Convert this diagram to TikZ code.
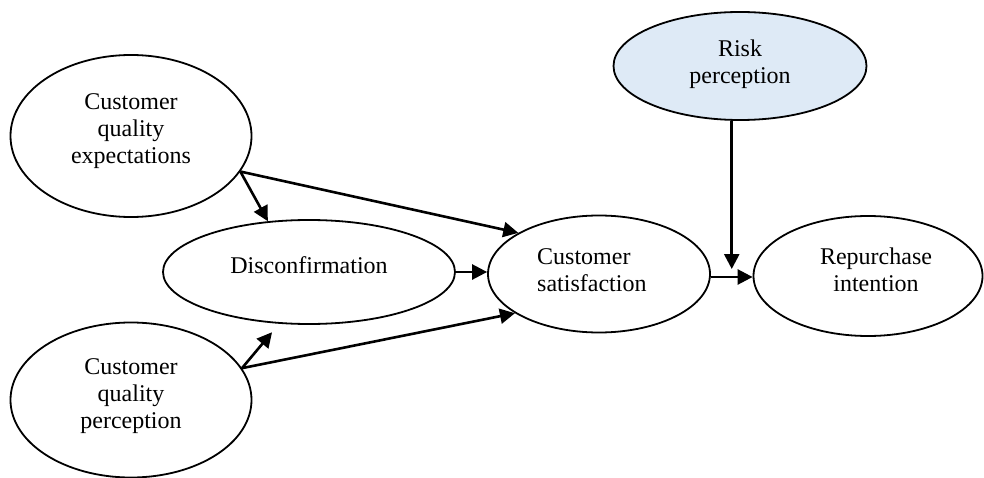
\documentclass[tikz,border=0pt]{standalone}
\usepackage{fontspec}
\setmainfont{Liberation Serif}
\usetikzlibrary{shapes.geometric,arrows.meta,calc}
\definecolor{riskfill}{HTML}{DEEAF6}
\tikzset{
  oval/.style={ellipse, draw=black, line width=1.8pt, inner sep=0pt},
  lbl/.style={font=\fontsize{24}{27}\selectfont, align=center, inner sep=0pt},
  conn/.style={line width=2.6pt, -{Triangle[length=15pt,width=15pt]}},
}
\begin{document}
\begin{tikzpicture}[x=1pt,y=-1pt]
\useasboundingbox (0,0) rectangle (984,478);
% ellipses
\node[oval, minimum width=241pt, minimum height=162pt] (cqe) at (131,136) {};
\node[oval, minimum width=292pt, minimum height=104pt] (disc) at (309,272) {};
\node[oval, minimum width=241pt, minimum height=155pt] (cqp) at (131,400) {};
\node[oval, minimum width=222pt, minimum height=117pt] (cs) at (599,274) {};
\node[oval, minimum width=229pt, minimum height=120pt] (ri) at (868,276) {};
\node[oval, fill=riskfill, minimum width=253pt, minimum height=108pt] (risk) at (740,66) {};
% labels
\node[lbl] (cqeT) at (131,131) {Customer\\quality\\expectations};
\node[lbl] (discT) at (309,265) {Disconfirmation};
\node[lbl] (cqpT) at (131,396) {Customer\\quality\\perception};
\node[lbl, align=left, anchor=west] (csT) at (537,270) {Customer\\satisfaction};
\node[lbl] (riT) at (876,270) {Repurchase\\intention};
\node[lbl] (riskT) at (740,64) {Risk\\perception};
% connectors
\draw[conn] (cqe.-18) -- (disc.129);
\draw[conn] (cqe.-18) -- (cs.153);
\draw[conn] (disc.east) -- (disc.east -| cs.west);
\draw[conn, shorten >=11pt] (cqp.16) -- (disc.-120);
\draw[conn] (cqp.16) -- (cs.205);
\coordinate (csr) at ($(cs.east)+(0,3)$);
\draw[conn] (csr) -- (csr -| ri.west);
\coordinate (rtip) at ($(csr)!0.5!(csr -| ri.west)+(0,-8)$);
\draw[conn] (rtip |- risk.south) -- (rtip);
\end{tikzpicture}
\end{document}
